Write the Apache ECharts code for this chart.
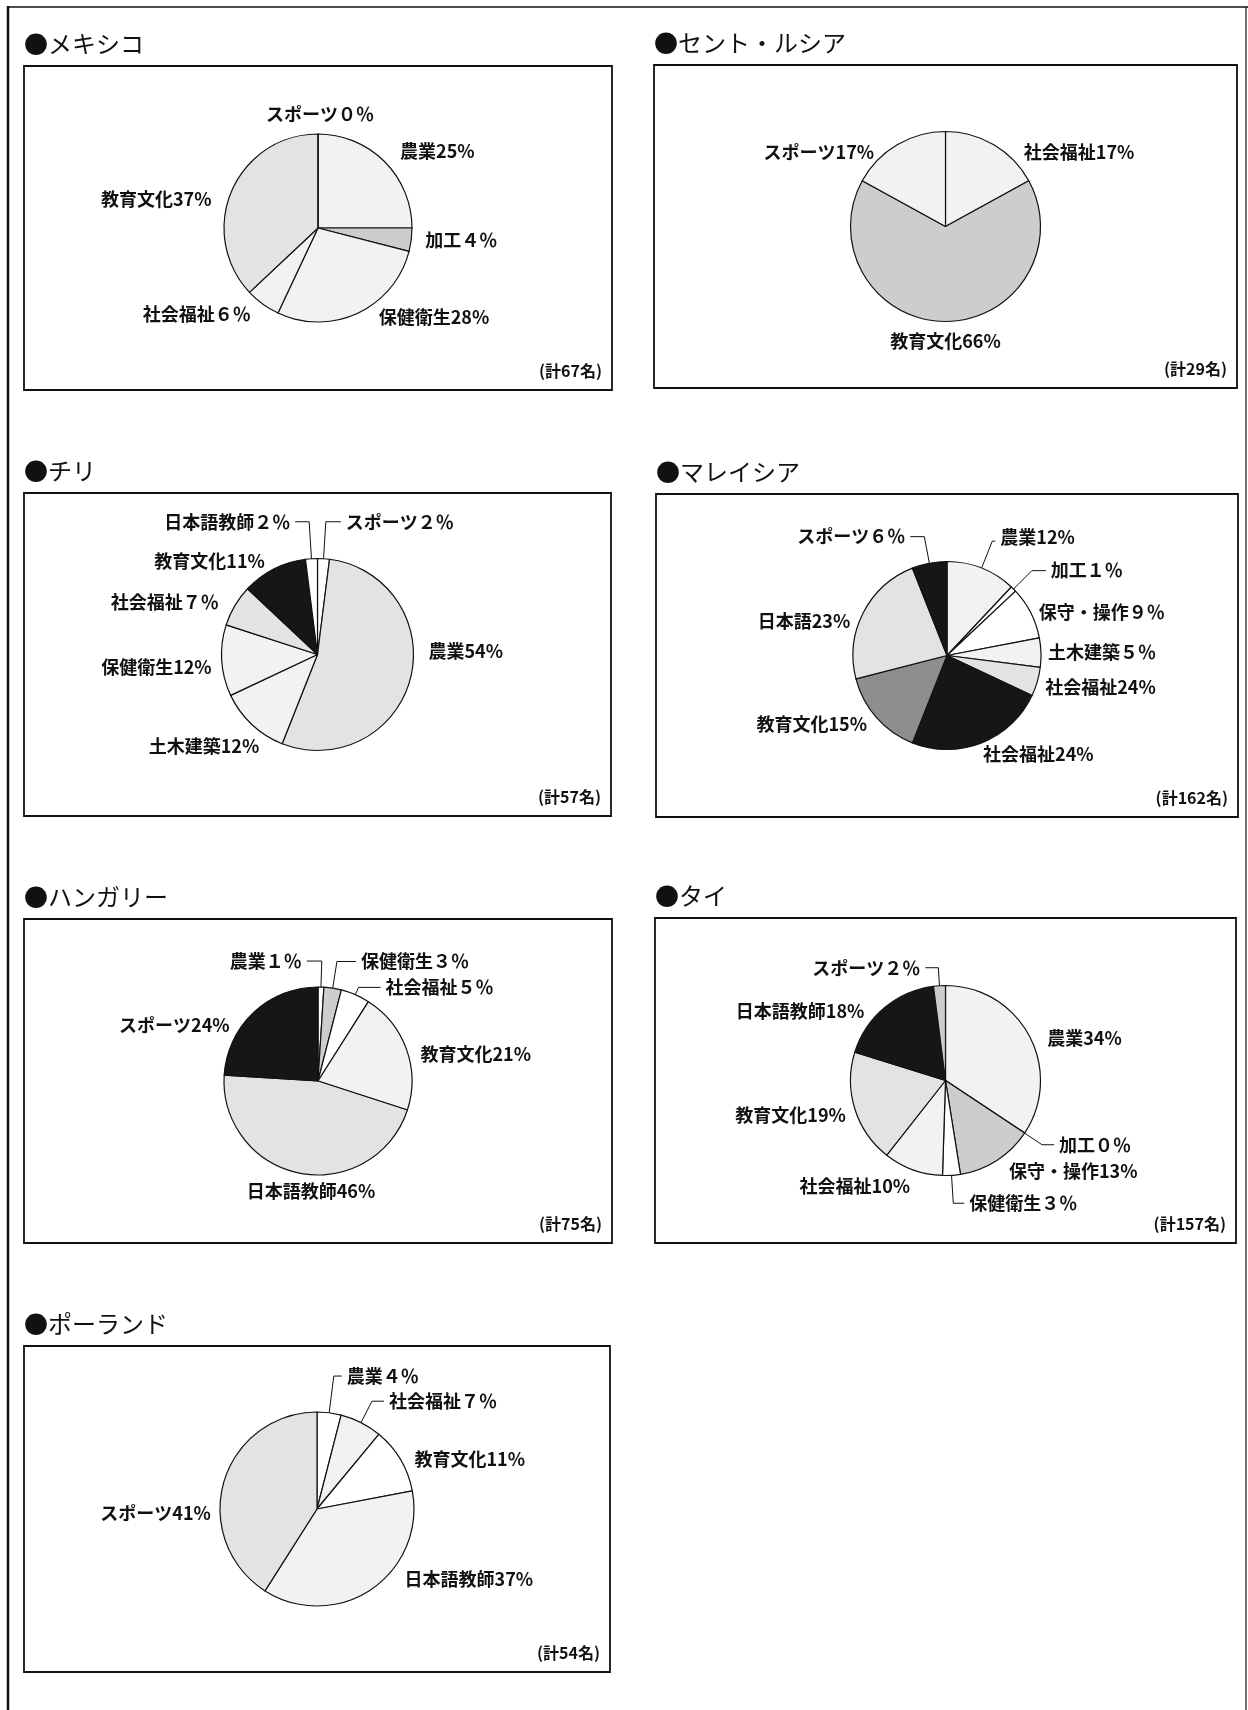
<!DOCTYPE html>
<html lang="ja">
<head>
<meta charset="utf-8">
<title>国別派遣分野</title>
<script src="https://cdn.jsdelivr.net/npm/echarts@6/dist/echarts.min.js"></script>
<style>
  html, body { margin: 0; padding: 0; background: #fff; }
  #chart { width: 1248px; height: 1710px; }
</style>
</head>
<body>
<div id="chart"></div>
<script>
// shares in %, clockwise from 12 o'clock
const mexicoNames = ["農業", "加工", "保健衛生", "社会福祉", "教育文化", "スポーツ"];
const mexicoValues = [25, 4, 28, 6, 37, 0];

const stLuciaNames = ["社会福祉", "教育文化", "スポーツ"];
const stLuciaValues = [17, 66, 17];

const chileNames = ["スポーツ", "農業", "土木建築", "保健衛生", "社会福祉", "教育文化", "日本語教師"];
const chileValues = [2, 54, 12, 12, 7, 11, 2];

const malaysiaNames = ["農業", "加工", "保守・操作", "土木建築", "社会福祉", "社会福祉", "教育文化", "日本語", "スポーツ"];
const malaysiaValues = [12, 1, 9, 5, 5, 24, 15, 23, 6];
// as printed: the small 社会福祉 slice carries "24%" in the original too
const malaysiaLabelPct = [12, 1, 9, 5, 24, 24, 15, 23, 6];

const hungaryNames = ["農業", "保健衛生", "社会福祉", "教育文化", "日本語教師", "スポーツ"];
const hungaryValues = [1, 3, 5, 21, 46, 24];

const thaiNames = ["農業", "加工", "保守・操作", "保健衛生", "社会福祉", "教育文化", "日本語教師", "スポーツ"];
const thaiValues = [34, 0, 13, 3, 10, 19, 18, 2];

const polandNames = ["農業", "社会福祉", "教育文化", "日本語教師", "スポーツ"];
const polandValues = [4, 7, 11, 37, 41];

const countries = ["メキシコ", "セント・ルシア", "チリ", "マレイシア", "ハンガリー", "タイ", "ポーランド"];
const totals = [67, 29, 57, 162, 75, 157, 54];

const pies = [
  [mexicoNames, mexicoValues, mexicoValues],
  [stLuciaNames, stLuciaValues, stLuciaValues],
  [chileNames, chileValues, chileValues],
  [malaysiaNames, malaysiaValues, malaysiaLabelPct],
  [hungaryNames, hungaryValues, hungaryValues],
  [thaiNames, thaiValues, thaiValues],
  [polandNames, polandValues, polandValues],
];

// panel frames [x, y, w, h]; pie sits in the middle of its frame
const boxes = [
  [24, 66, 588, 324], [654, 65, 583, 323],
  [24, 493, 587, 323], [656, 494, 582, 323],
  [24, 919, 588, 324], [655, 918, 581, 325],
  [24, 1346, 586, 326],
];
const radii = [94, 95, 96, 94, 94, 95, 97];

// screen-tone greys
const W = "#ffffff", L = "#f2f2f2", M = "#e3e3e3", D = "#cdcdcd", G = "#8e8e8e", K = "#161616";
const fills = [
  [L, D, L, L, M, W],
  [L, D, L],
  [W, M, L, L, M, K, W],
  [L, W, W, L, M, K, G, M, K],
  [W, D, W, L, M, K],
  [L, W, D, W, L, M, K, D],
  [W, L, W, L, M],
];

// label placement: line lengths, leader shown or not, small nudges
const labelTweaks = [
  [{ len: 15 }, { len: 5, len2: 4 }, { len: 4, len2: 14 }, { len: 12 }, { len: 10, len2: 6, dy: 12 }, { len: 20, center: 2 }],
  [{ len2: 25, dy: 7 }, { len: 20, center: 0 }, { len2: 18, dy: 7 }],
  [{ len: 37, len2: 15, line: true }, { len2: 13, dy: -27 }, { len: 30, dx: 33 }, { len: 5, dy: 6 },
   { len: 7, len2: 5 }, { len: 9 }, { len: 37, len2: 14, line: true }],
  [{ len: 29, len2: 3, line: true, dy: -4 }, { len: 26, len2: 14, line: true }, { len: 1, len2: 2 }, { len: 2 },
   { len: 3, dy: 5 }, { len: 12, dx: -8 }, { len: 10, dx: 3 }, { len2: 8, dy: 8 }, { len: 27, len2: 14, line: true }],
  [{ len: 26, len2: -15, line: true, align: "right", dx: -10 }, { len: 27, len2: 19, line: true },
   { len: 8, len2: 22, line: true }, { len2: 9, dy: 5 }, { len: 18, center: -7 }, { len2: 19, dy: 13 }],
  [{ len2: 13, dy: 3 }, { len: 21, len2: 12, line: true }, { len: 13 }, { len: 28, len2: 11, line: true },
   { len: 17, dx: 8 }, { len: 2, len2: 2, dy: 6 }, { len2: 15, dy: 3 }, { len: 18, len2: 13, line: true }],
  [{ len: 37, len2: 8, line: true }, { len: 24, len2: 12, line: true }, { len2: 9 }, { len2: 28, dy: -10 }, { len2: 8, dy: 31 }],
];

const FONT = '"Noto Sans CJK JP", sans-serif';
const INK = "#111";

function pctText(v) {
  // single digits were set full-width in the original
  return v < 10 ? String.fromCharCode(0xff10 + v) + "％" : v + "%";
}

const series = pies.map(([names, values, printed], p) => {
  const [bx, by, bw, bh] = boxes[p];
  const cx = bx + bw / 2;
  const cy = by + bh / 2;
  const tweaks = labelTweaks[p];
  return {
    type: "pie",
    center: [cx, cy],
    radius: radii[p],
    startAngle: 90,
    clockwise: true,
    avoidLabelOverlap: false,
    animation: false,
    silent: true,
    emphasis: { disabled: true },
    itemStyle: { borderColor: INK, borderWidth: 1.2 },
    label: {
      show: true,
      position: "outside",
      color: INK,
      fontSize: 18,
      fontWeight: "bold",
      fontFamily: FONT,
      distanceToLabelLine: 5,
    },
    labelLine: {
      lineStyle: { color: INK, width: 1 },
      minTurnAngle: 0,
      maxSurfaceAngle: 180,
    },
    labelLayout: (params) => {
      const t = tweaks[params.dataIndex] || {};
      const out = {};
      if (t.center != null) {
        out.x = cx + t.center;
        out.align = "center";
      }
      if (t.align) out.align = t.align;
      if (t.dx) out.dx = t.dx;
      if (t.dy) out.dy = t.dy;
      return out;
    },
    data: names.map((name, i) => ({
      name: name,
      value: values[i],
      itemStyle: { color: fills[p][i] },
      label: { formatter: name + pctText(printed[i]) },
      labelLine: {
        show: !!tweaks[i].line,
        length: tweaks[i].len || 0,
        length2: tweaks[i].len2 || 0,
      },
    })),
  };
});

const graphics = [
  { type: "line", shape: { x1: 8, y1: 6, x2: 8, y2: 1710 }, style: { stroke: INK, lineWidth: 2.5 } },
  { type: "line", shape: { x1: 8, y1: 7, x2: 1248, y2: 7 }, style: { stroke: INK, lineWidth: 1.5 } },
  { type: "line", shape: { x1: 1246, y1: 7, x2: 1246, y2: 1710 }, style: { stroke: INK, lineWidth: 1.2 } },
];
boxes.forEach(([x, y, w, h], p) => {
  graphics.push({
    type: "rect",
    shape: { x: x, y: y, width: w, height: h },
    style: { fill: "none", stroke: INK, lineWidth: 1.8 },
  });
  graphics.push({
    type: "text",
    x: x,
    y: y - 22,
    style: { text: "●" + countries[p], fontSize: 24, fontFamily: FONT, fill: INK, verticalAlign: "middle" },
  });
  graphics.push({
    type: "text",
    x: x + w - 10,
    y: y + h - 19,
    style: { text: "(計" + totals[p] + "名)", fontSize: 16, fontWeight: "bold", fontFamily: FONT, fill: INK, align: "right", verticalAlign: "middle" },
  });
});

const chart = echarts.init(document.getElementById("chart"));
chart.setOption({
  backgroundColor: "#fff",
  animation: false,
  graphic: graphics,
  series: series,
});
</script>
</body>
</html>
